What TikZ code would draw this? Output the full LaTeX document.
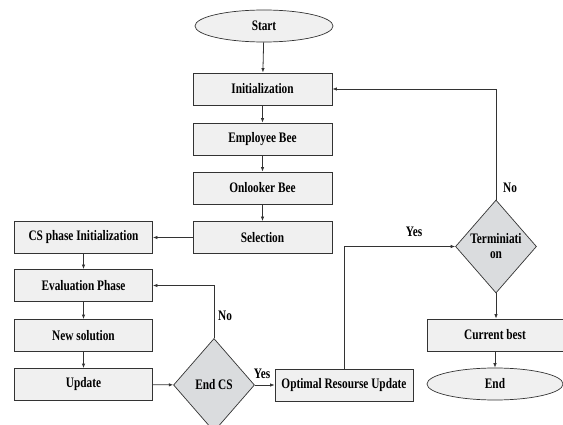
\documentclass[tikz,border=0pt]{standalone}
\usepackage{fontspec}
\setmainfont[FakeStretch=0.78]{Liberation Serif}
\usetikzlibrary{shapes.geometric,arrows.meta}
\definecolor{boxfill}{HTML}{F0F0F0}
\definecolor{dmfill}{HTML}{DADCDE}
\definecolor{linec}{HTML}{333333}
\tikzset{
  every node/.style={font=\fontsize{14.5}{15}\selectfont\bfseries},
  procbox/.style={draw=linec, line width=0.8pt, fill=boxfill, rectangle, minimum width=139pt, minimum height=32pt, inner sep=0pt},
  termellipse/.style={draw=linec, line width=0.7pt, fill=boxfill, ellipse, minimum width=138pt, minimum height=32pt, inner sep=0pt},
  decide/.style={draw=linec, line width=0.7pt, fill=dmfill, diamond, minimum width=81pt, minimum height=93pt, inner sep=0pt, align=center},
  flow/.style={draw=linec, line width=0.8pt, -{Latex[length=4.5pt,width=3.5pt]}},
  lbl/.style={text=black}
}
\begin{document}
\begin{tikzpicture}[x=1pt,y=-1pt]
\useasboundingbox (0,0) rectangle (563,425);
\clip (0,0) rectangle (563,425);
\node[termellipse] (start) at (264,26) {Start};
\node[procbox] (init) at (262.5,89) {Initialization};
\node[procbox] (emp) at (262.5,139) {Employee Bee};
\node[procbox] (onl) at (262.5,188) {Onlooker Bee};
\node[procbox] (sel) at (262.5,237.5) {Selection};
\node[procbox, minimum width=138pt] (cs) at (83.5,237.5) {CS phase Initialization};
\node[procbox, minimum width=138pt] (eval) at (83.5,285.5) {Evaluation Phase};
\node[procbox, minimum width=138pt] (new) at (83.5,335.5) {New solution};
\node[procbox, minimum width=138pt] (upd) at (83.5,384.5) {Update};
\node[decide] (endcs) at (214,385) {End CS};
\node[procbox, minimum width=138pt] (opt) at (344,385) {Optimal Resourse Update};
\node[decide] (term) at (496,246.5) {Terminiati\\on};
\node[procbox, minimum width=136pt] (cur) at (495,335) {Current best};
\node[termellipse, minimum width=136pt] (end) at (495,384) {End};

\draw[flow] (start) -- (init);
\draw[flow] (init) -- (emp);
\draw[flow] (emp) -- (onl);
\draw[flow] (onl) -- (sel);
\draw[flow] (sel) -- (cs);
\draw[flow] (cs) -- (eval);
\draw[flow] (eval) -- (new);
\draw[flow] (new) -- (upd);
\draw[flow] (upd) -- (endcs);
\draw[flow] (endcs.north) |- (eval.east);
\draw[flow] (endcs) -- (opt);
\draw[flow] (opt.north) |- (term.west);
\draw[flow] (term.north) |- (init.east);
\draw[flow] (term.south) -- (term.south |- cur.north);
\draw[flow] (cur.south) -- (cur.south |- end.north);

\node[lbl] (lno1) at (225,316) {No};
\node[lbl] (lyes1) at (262,374) {Yes};
\node[lbl] (lyes2) at (414,232) {Yes};
\node[lbl] (lno2) at (510,188) {No};
\end{tikzpicture}
\end{document}
